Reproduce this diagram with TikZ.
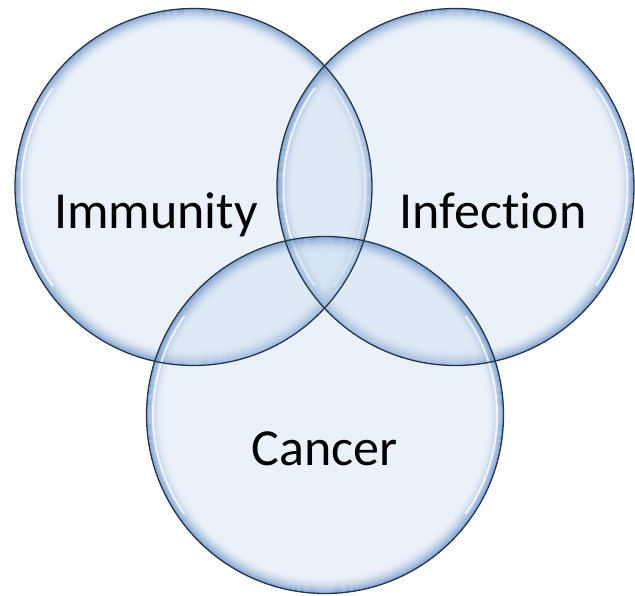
\documentclass[tikz,border=0pt]{standalone}
\usepackage{fontspec}
\setmainfont{Carlito}[Ligatures=NoCommon]
\usepackage{tikz}

\definecolor{vennlight}{RGB}{202,220,240}
\definecolor{vennring}{RGB}{100,140,194}
\definecolor{vennline}{RGB}{36,54,79}

\tikzset{
  venn fill/.style={fill=vennlight, fill opacity=0.4},
  venn edge/.style={draw=vennline, line width=1.3pt},
  venn gloss/.style={draw=white, line width=2pt, opacity=0.75, line cap=round},
  venn label/.style={anchor=base, font=\fontsize{52}{62}\selectfont}
}

\begin{document}
\begin{tikzpicture}[x=1pt,y=1pt]
        \useasboundingbox (0,0) rectangle (635,595);
        \coordinate (immunity) at (193.5,408);
        \coordinate (infection) at (455.5,408);
        \coordinate (cancer) at (325,180);
        \foreach \c in {immunity,infection,cancer}{
            \fill[venn fill] (\c) circle[radius=178.5pt];
            \foreach \i in {0,...,15}{
                \pgfmathsetmacro\rr{178-\i}
                \pgfmathsetmacro\op{0.75*(1-\i/16)^2}
                \draw[vennring, line width=1pt, opacity=\op] (\c) circle[radius=\rr pt];
            }
            \draw[venn gloss] ([shift={(145:172pt)}]\c) arc[start angle=145, end angle=215, radius=172pt];
            \draw[venn gloss] ([shift={(-35:172pt)}]\c) arc[start angle=-35, end angle=35, radius=172pt];
        }
        \foreach \c in {immunity,infection,cancer}
            \draw[venn edge] (\c) circle[radius=178.5pt];
        \node[venn label] (immunitylabel) at (156,366) {Immunity};
        \node[venn label] (infectionlabel) at (493,366) {Infection};
        \node[venn label] (cancerlabel) at (324.5,129) {Cancer};
    \end{tikzpicture}
\end{document}
